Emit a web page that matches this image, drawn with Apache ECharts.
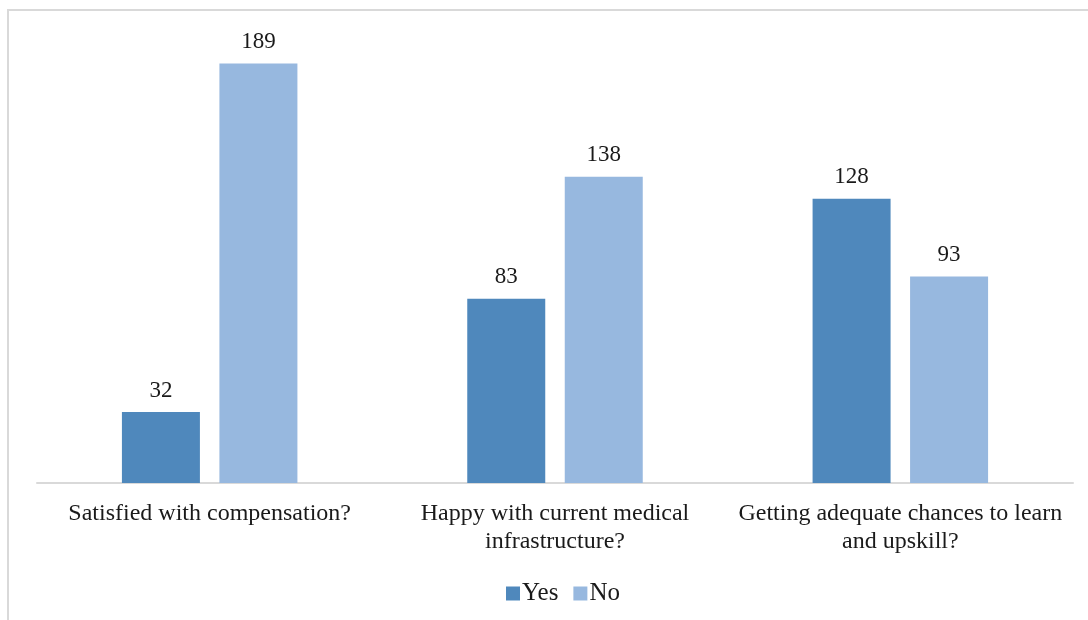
<!DOCTYPE html>
<html>
<head>
<meta charset="utf-8">
<script src="https://cdn.jsdelivr.net/npm/echarts@6/dist/echarts.min.js"></script>
<style>
    html, body { margin: 0; padding: 0; background: #fff; }
    #frame { position: absolute; left: 7px; top: 9px; width: 1081px; height: 611px;
             border-top: 2px solid #d9d9d9; border-left: 2px solid #d9d9d9; box-sizing: border-box; }
    #chart { position: absolute; left: 0; top: 0; width: 1088px; height: 620px; }
</style>
</head>
<body>
<div id="frame"></div>
<div id="chart"></div>
<script>
let categories = [
    'Satisfied with compensation?',
    'Happy with current medical\ninfrastructure?',
    'Getting adequate chances to learn\nand upskill?'
];
let yesValues = [32, 83, 128];
let noValues = [189, 138, 93];

let FONT = '"Liberation Serif", "Times New Roman", serif';
let chart = echarts.init(document.getElementById('chart'));

let labelStyle = {
    show: true,
    position: 'top',
    distance: 10,
    fontFamily: FONT,
    fontSize: 23,
    color: '#1a1a1a'
};

chart.setOption({
    animation: false,
    legend: {
        data: ['Yes', 'No'],
        left: 501,
        top: 576,
        itemWidth: 14,
        itemHeight: 14,
        itemGap: 15,
        icon: 'rect',
        textStyle: {
            fontFamily: FONT,
            fontSize: 25,
            color: '#1a1a1a',
            padding: [0, 0, 0, -3]
        }
    },
    grid: {
        left: 37,
        right: 15,
        top: 39,
        bottom: 137
    },
    xAxis: {
        type: 'category',
        data: categories,
        axisLine: {
            lineStyle: { color: '#d9d9d9', width: 2 }
        },
        axisTick: { show: false },
        axisLabel: {
            interval: 0,
            margin: 17,
            fontFamily: FONT,
            fontSize: 24,
            lineHeight: 28,
            color: '#1a1a1a'
        }
    },
    yAxis: {
        type: 'value',
        min: 0,
        max: 200,
        show: false,
        splitLine: { show: false }
    },
    series: [{
        name: 'Yes',
        type: 'bar',
        data: yesValues,
        barWidth: 78,
        barGap: '25%',
        itemStyle: { color: '#4F88BC' },
        label: labelStyle
    }, {
        name: 'No',
        type: 'bar',
        data: noValues,
        barWidth: 78,
        itemStyle: { color: '#97B8DF' },
        label: labelStyle
    }]
});
</script>
</body>
</html>
